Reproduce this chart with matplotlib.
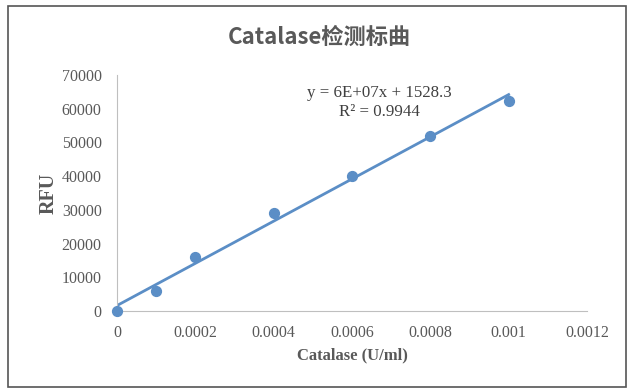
import numpy as np
import matplotlib.pyplot as plt
from matplotlib.patches import Rectangle

plt.rcParams['font.family'] = ['Liberation Serif', 'DejaVu Serif']

# standard curve data
conc = [0, 0.0001, 0.0002, 0.0004, 0.0006, 0.0008, 0.001]
rfu = [0, 6000, 16000, 29000, 40000, 52000, 62300]
xticks = [0, 0.0002, 0.0004, 0.0006, 0.0008, 0.001, 0.0012]
xticklabels = ["0", "0.0002", "0.0004", "0.0006", "0.0008", "0.001", "0.0012"]
yticks = [0, 10000, 20000, 30000, 40000, 50000, 60000, 70000]

blue = "#5b8ec6"
grey = "#595959"

fig = plt.figure(figsize=(6.27, 3.9), dpi=100)
fig.patches.append(Rectangle((8/627, 3/390), 618/627, 381/390, transform=fig.transFigure,
                             fill=False, edgecolor="#555555", lw=1.2))
ax = fig.add_axes([117/627, 1-311/390, 470/627, 236/390])

slope, icpt = np.polyfit(conc, rfu, 1)
xfit = np.array([conc[0], conc[-1]])
ax.plot(xfit, slope*xfit + icpt, color=blue, lw=2, zorder=2)
ax.scatter(conc, rfu, s=50, color=blue, zorder=3, clip_on=False)

ax.set_xlim(0, 0.0012)
ax.set_ylim(0, 70000)
ax.set_xticks(xticks)
ax.set_xticklabels(xticklabels)
ax.set_yticks(yticks)
ax.tick_params(length=0, labelsize=11.5, colors=grey)
ax.tick_params(axis="y", pad=11)
ax.tick_params(axis="x", pad=10)
for s in ("top", "right"):
    ax.spines[s].set_visible(False)
for s in ("left", "bottom"):
    ax.spines[s].set_color("#bfbfbf")

ax.set_xlabel("Catalase (U/ml)", fontsize=12, fontweight="bold", color=grey, labelpad=5)
ax.set_ylabel("RFU", fontsize=14.5, fontweight="bold", color=grey, labelpad=2)

fig.text(0.51, 1-37/390, "Catalase检测标曲", ha="center", va="center", fontsize=16,
         fontweight="bold", color=grey, family=["Noto Sans CJK SC", "DejaVu Sans"])
ax.text(0.00067, 61800, "y = 6E+07x + 1528.3\nR² = 0.9944", ha="center", va="center",
        fontsize=12.2, color="#404040", linespacing=1.25)

fig.savefig("out.png", dpi=100, facecolor="white")
